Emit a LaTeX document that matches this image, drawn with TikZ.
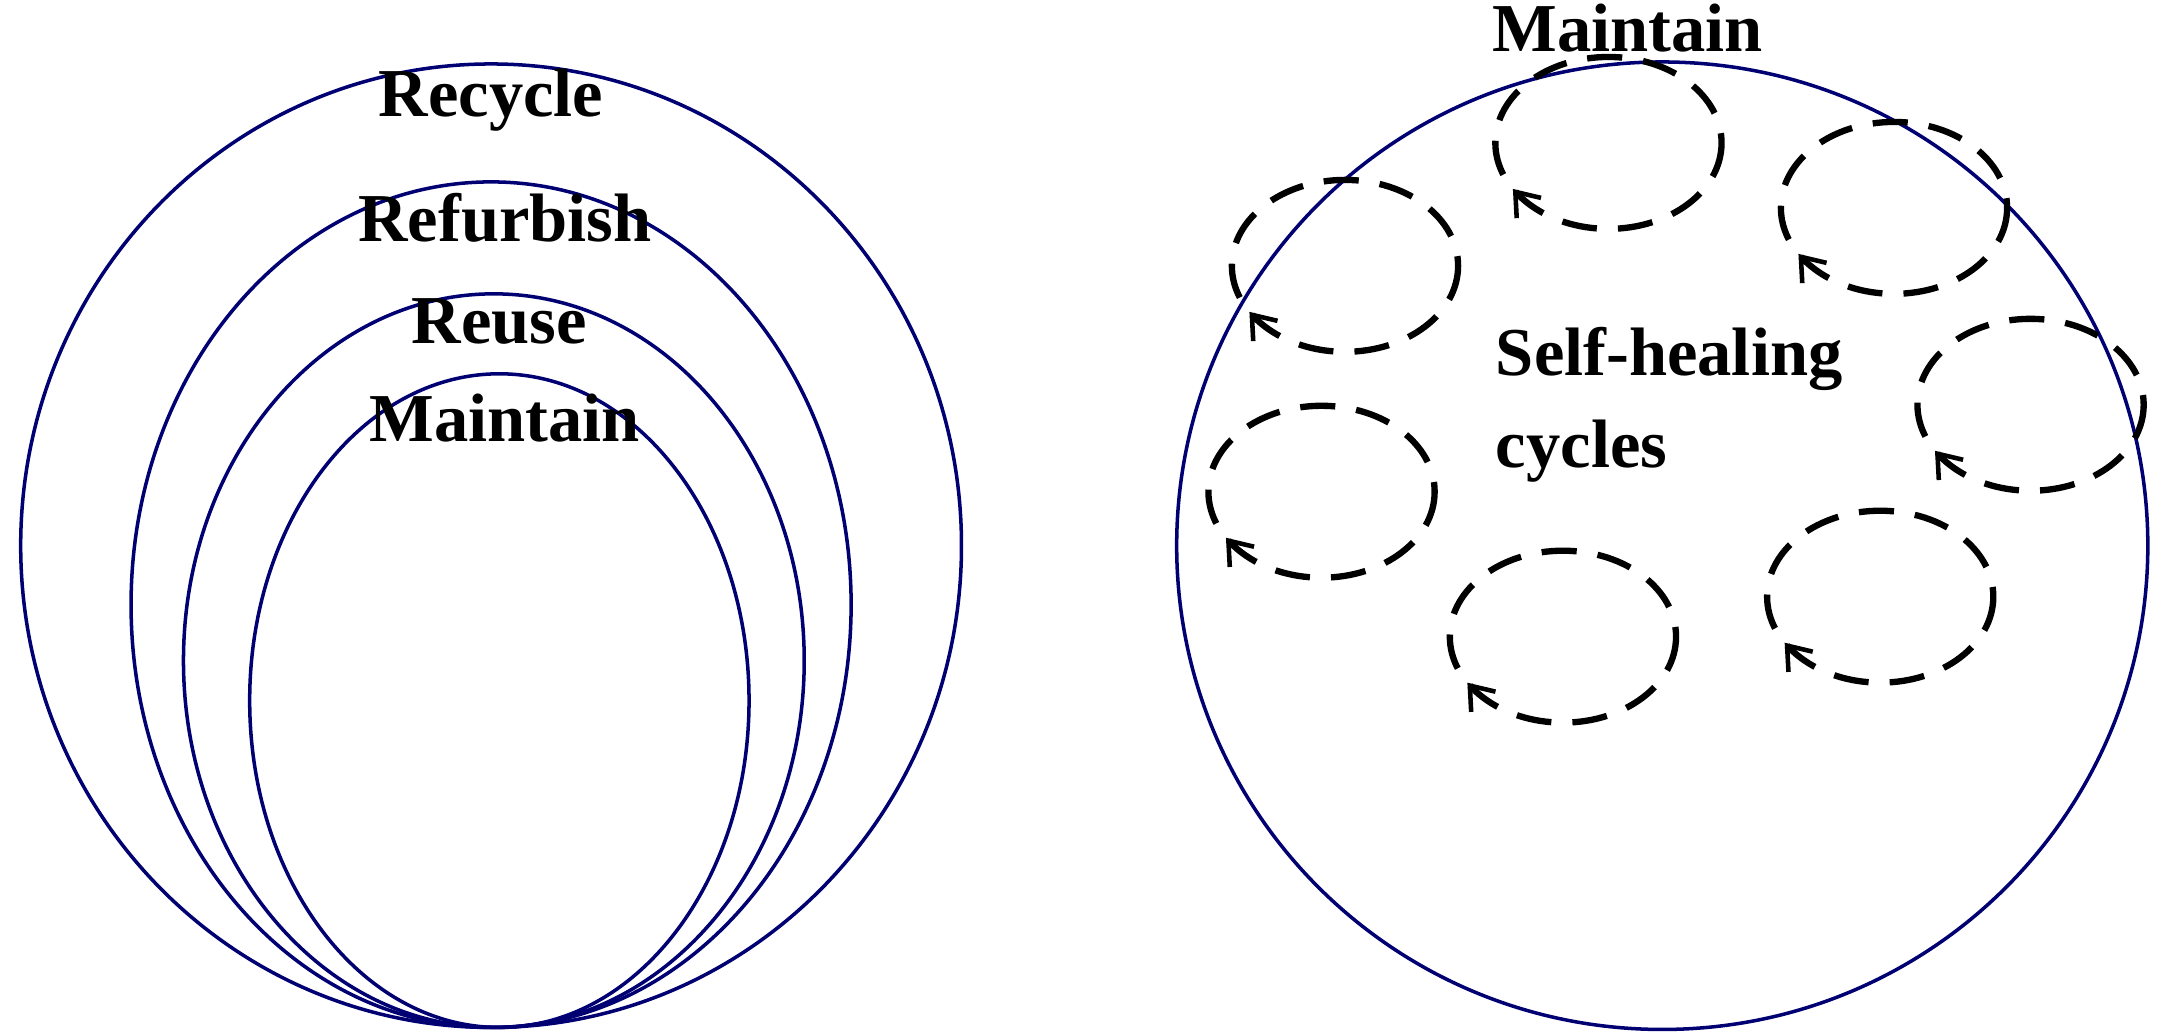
\documentclass[tikz,border=0pt]{standalone}
\usepackage{fontspec}
\setmainfont{Liberation Serif}
\usetikzlibrary{arrows.meta,decorations.markings}
\begin{document}
\begin{tikzpicture}[x=0.013795cm,y=-0.01cm,
    stage/.style={draw=blue!45!black,line width=1pt},
    label/.style={font=\fontsize{19.5}{26}\selectfont\bfseries,align=left},
    loop/.style={draw=black,line width=1.8pt,dash pattern=on 10pt off 6pt,
        decoration={markings,mark=at position 0.42 with {\arrow{Straight Barb[length=6pt,width=9pt,line width=1.3pt]}}},
        postaction={decorate}}]
    \useasboundingbox (0,0) rectangle (1568,1034);
    % nested stages
    \draw[stage] (356,546) ellipse [x radius=341, y radius=482];
    \draw[stage] (356,605) ellipse [x radius=261, y radius=423];
    \draw[stage] (358,661) ellipse [x radius=225, y radius=367];
    \draw[stage] (362,701) ellipse [x radius=181, y radius=327];
    \node[label] (recycle) at (356,100) {Recycle};
    \node[label] (refurbish) at (366,218) {Refurbish};
    \node[label] (reuse) at (362,322) {Reuse};
    \node[label] (maintain) at (366,418) {Maintain};
    % self-healing
    \draw[stage] (1205,546) ellipse [x radius=352, y radius=484];
    \node[label] (maintainR) at (1180,28) {Maintain};
    \node[label] (heal) at (1210,405) {Self-healing\\cycles};
    \foreach \cx/\cy in {1166/143, 1373/208, 975/266, 1472/405, 958/492, 1363/597, 1133/637}
        \draw[loop] (\cx,\cy) ellipse [x radius=82, y radius=86];
\end{tikzpicture}
\end{document}
